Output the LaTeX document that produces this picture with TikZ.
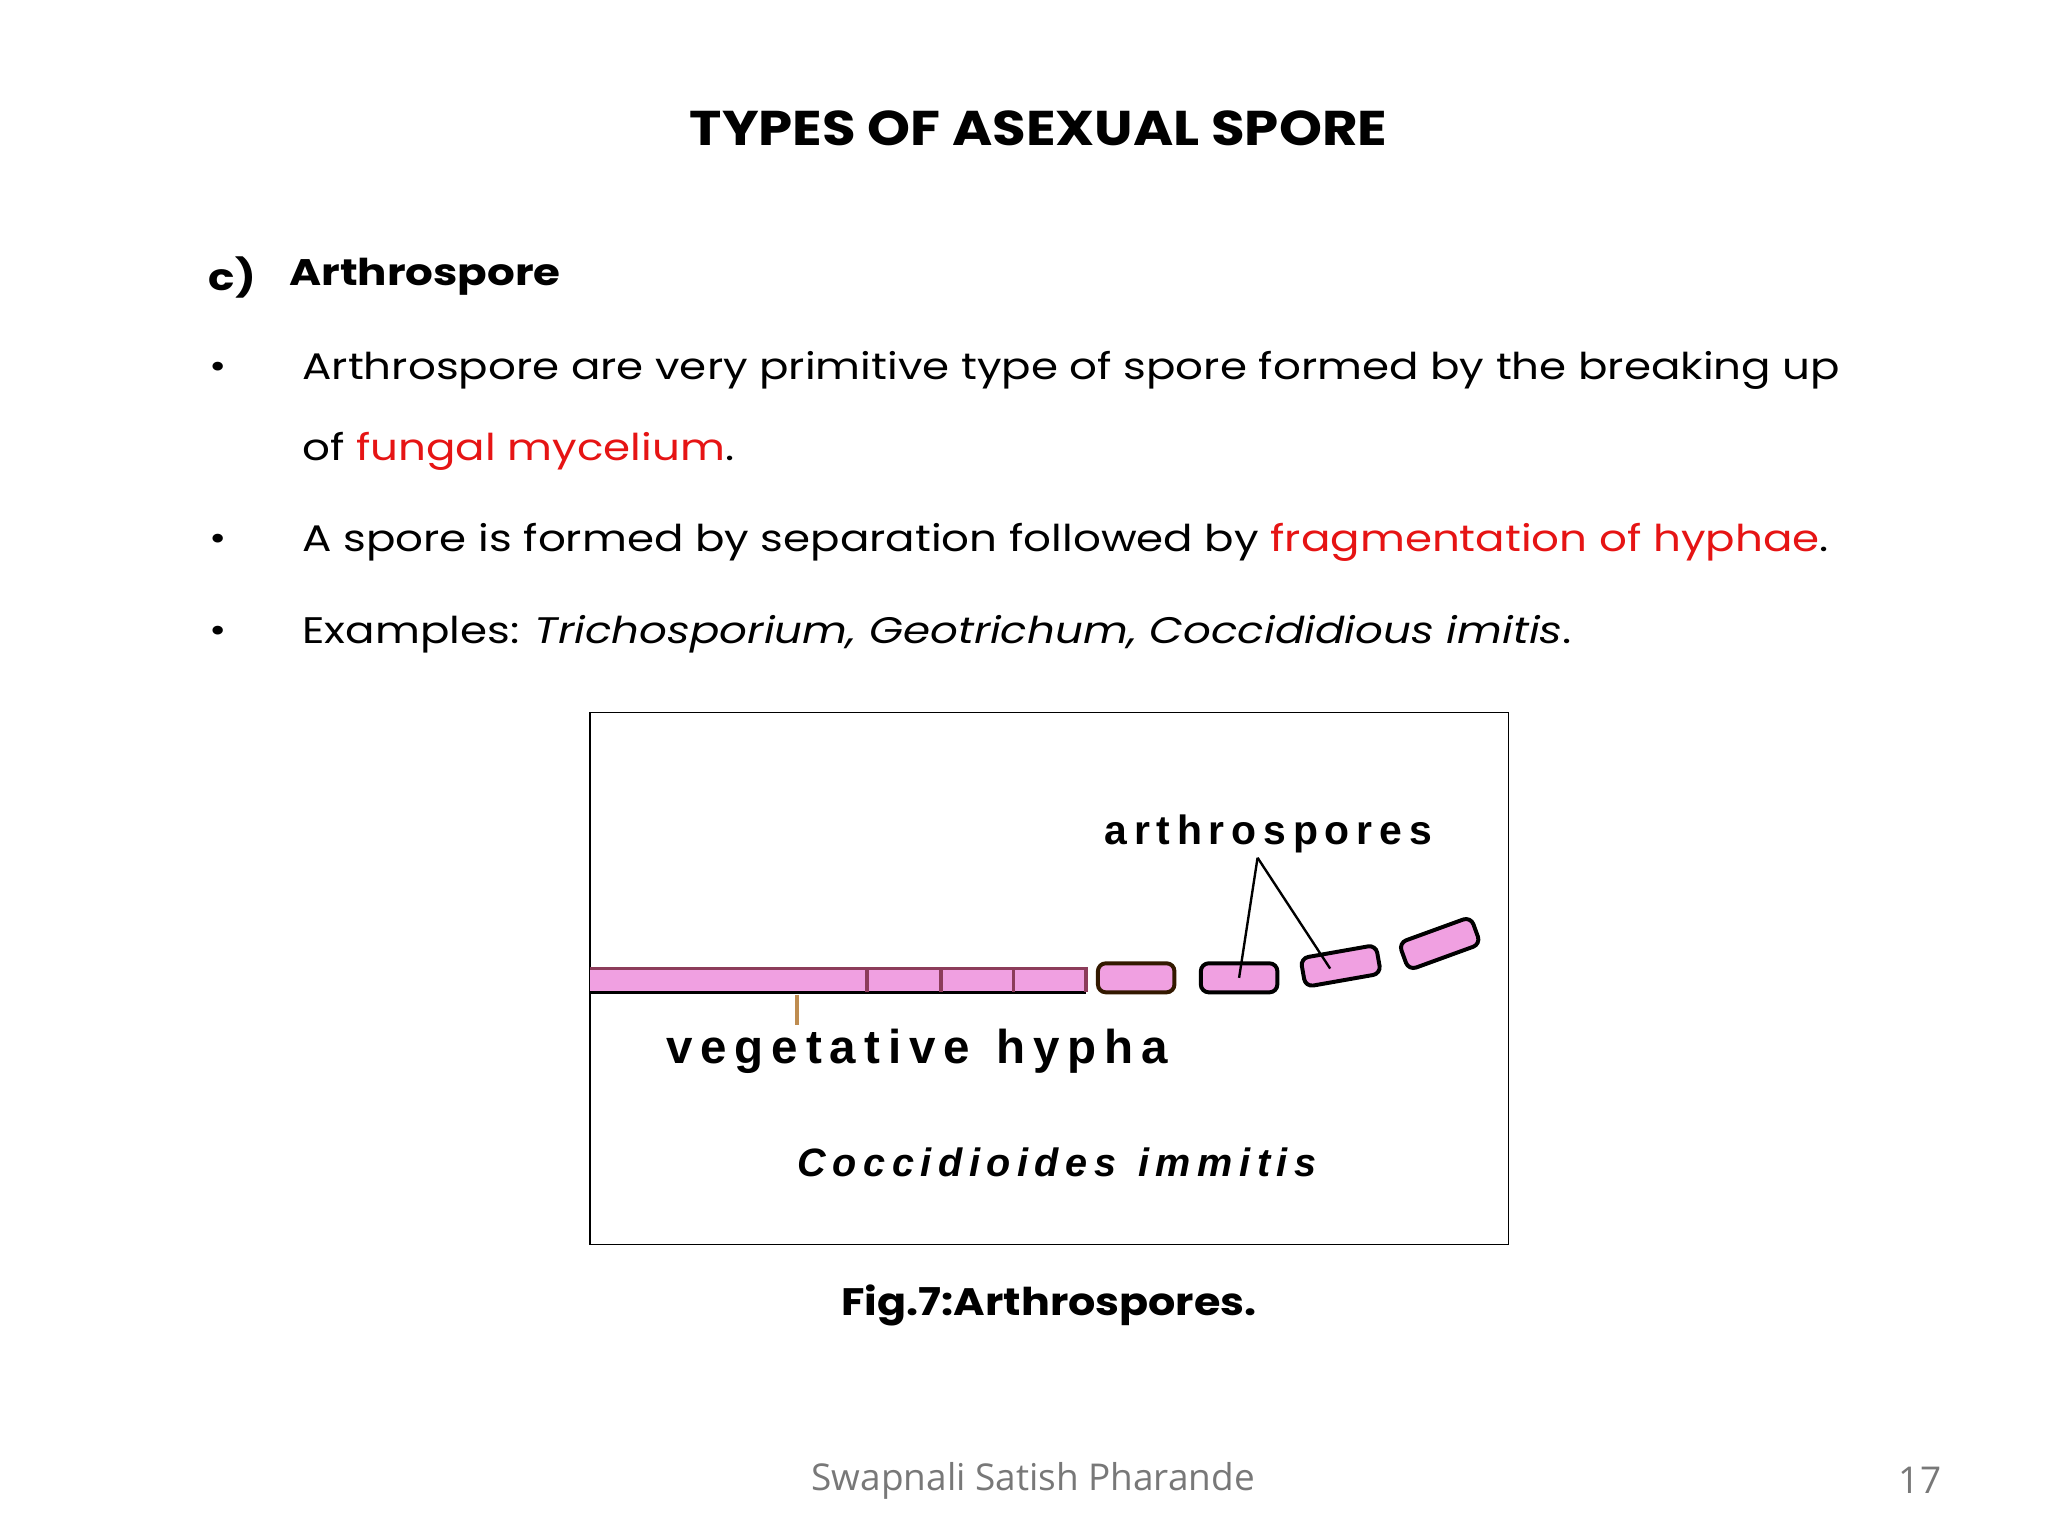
\documentclass[tikz,border=0pt]{standalone}
\usepackage{fontspec}
\setmainfont{Poppins}[FakeStretch=1.18]
\newfontfamily\titlefont{Poppins}[FakeStretch=1.12]
\newfontfamily\figfont{Liberation Sans}
\newfontfamily\footfont{Open Sans}
\definecolor{sporepink}{RGB}{240,160,225}
\definecolor{hyphaedge}{RGB}{140,60,90}
\definecolor{tan}{RGB}{190,140,80}
\definecolor{slidered}{RGB}{230,20,20}
\definecolor{footgray}{RGB}{120,120,120}
\tikzset{
  body/.style={anchor=west,font=\fontsize{28}{32}\selectfont,inner sep=0pt},
  bul/.style={font=\fontsize{27}{32}\selectfont,inner sep=0pt},
  figlab/.style={font=\figfont\bfseries\fontsize{30}{34}\selectfont,inner sep=0pt},
  spore/.style={draw=black,line width=3pt,rounded corners=6pt,fill=sporepink,minimum width=58pt,minimum height=22pt,inner sep=0pt},
  pointer/.style={line width=1.8pt}
}
\begin{document}
\begin{tikzpicture}[x=1pt,y=-1pt]
\useasboundingbox (0,0) rectangle (1552,1164);
\fill[white] (0,0) rectangle (1552,1164);
\node[font=\titlefont\bfseries\fontsize{37}{40}\selectfont,inner sep=0pt] (title) at (787,97) {TYPES OF ASEXUAL SPORE};
\node[body,font=\bfseries\fontsize{28}{32}\selectfont] (c) at (158,210) {c)};
\node[body,font=\bfseries\fontsize{28}{32}\selectfont] (sub) at (219,210) {Arthrospore};
\node[bul] (b1) at (165,281) {•};
\node[body] (t1) at (229,281) {Arthrospore are very primitive type of spore formed by the breaking up};
\node[body] (t1b) at (229,342) {of \textcolor{slidered}{fungal mycelium}.};
\node[bul] (b2) at (165,411) {•};
\node[body] (t2) at (229,411) {A spore is formed by separation followed by \textcolor{slidered}{fragmentation of hyphae}.};
\node[bul] (b3) at (165,481) {•};
\node[body] (t3) at (229,481) {Examples: \textit{Trichosporium, Geotrichum, Coccididious imitis}.};
% figure
\draw[line width=1pt] (447,540) rectangle (1143,943);
\fill[sporepink] (447,733) rectangle (823,752);
\draw[hyphaedge,line width=2.5pt] (447,734) -- (823,734);
\draw[black,line width=2pt] (447,752) -- (823,752);
\foreach \xx in {657,713,768,823} \draw[hyphaedge,line width=2.5pt] (\xx,733) -- (\xx,752);
\node[spore,draw=black!80!orange] (s1) at (861,741) {};
\node[spore] (s2) at (939,741) {};
\node[spore,rotate=10] (s3) at (1016,732) {};
\node[spore,rotate=20] (s4) at (1091,715) {};
\node[figlab,font=\figfont\bfseries\fontsize{31}{34}\selectfont] (arth) at (961,632) {a\,r\,t\,h\,r\,o\,s\,p\,o\,r\,e\,s};
\coordinate (apex) at (953,650);
\draw[pointer] (apex) -- (s2.center);
\draw[pointer] (apex) -- ([xshift=-8pt,yshift=-2pt]s3.center);
\node[figlab,font=\figfont\bfseries\fontsize{36}{40}\selectfont] (veg) at (695,797) {v\,e\,g\,e\,t\,a\,t\,i\,v\,e\ \ h\,y\,p\,h\,a};
\coordinate (vegtop) at (604,754);
\draw[tan,line width=3pt] (vegtop) -- (604,777);
\node[figlab,font=\figfont\bfseries\itshape\fontsize{30}{34}\selectfont] (sp) at (801,881) {C\,o\,c\,c\,i\,d\,i\,o\,i\,d\,e\,s\ \ i\,m\,m\,i\,t\,i\,s};
\node[font=\titlefont\bfseries\fontsize{29}{32}\selectfont,inner sep=0pt] (cap) at (795,989) {Fig.7:Arthrospores.};
\node[font=\footfont\fontsize{28}{32}\selectfont,text=footgray,inner sep=0pt] (foot) at (783,1122) {Swapnali Satish Pharande};
\node[font=\footfont\fontsize{28}{32}\selectfont,text=footgray,inner sep=0pt] (num) at (1455,1122) {17};
\end{tikzpicture}
\end{document}
